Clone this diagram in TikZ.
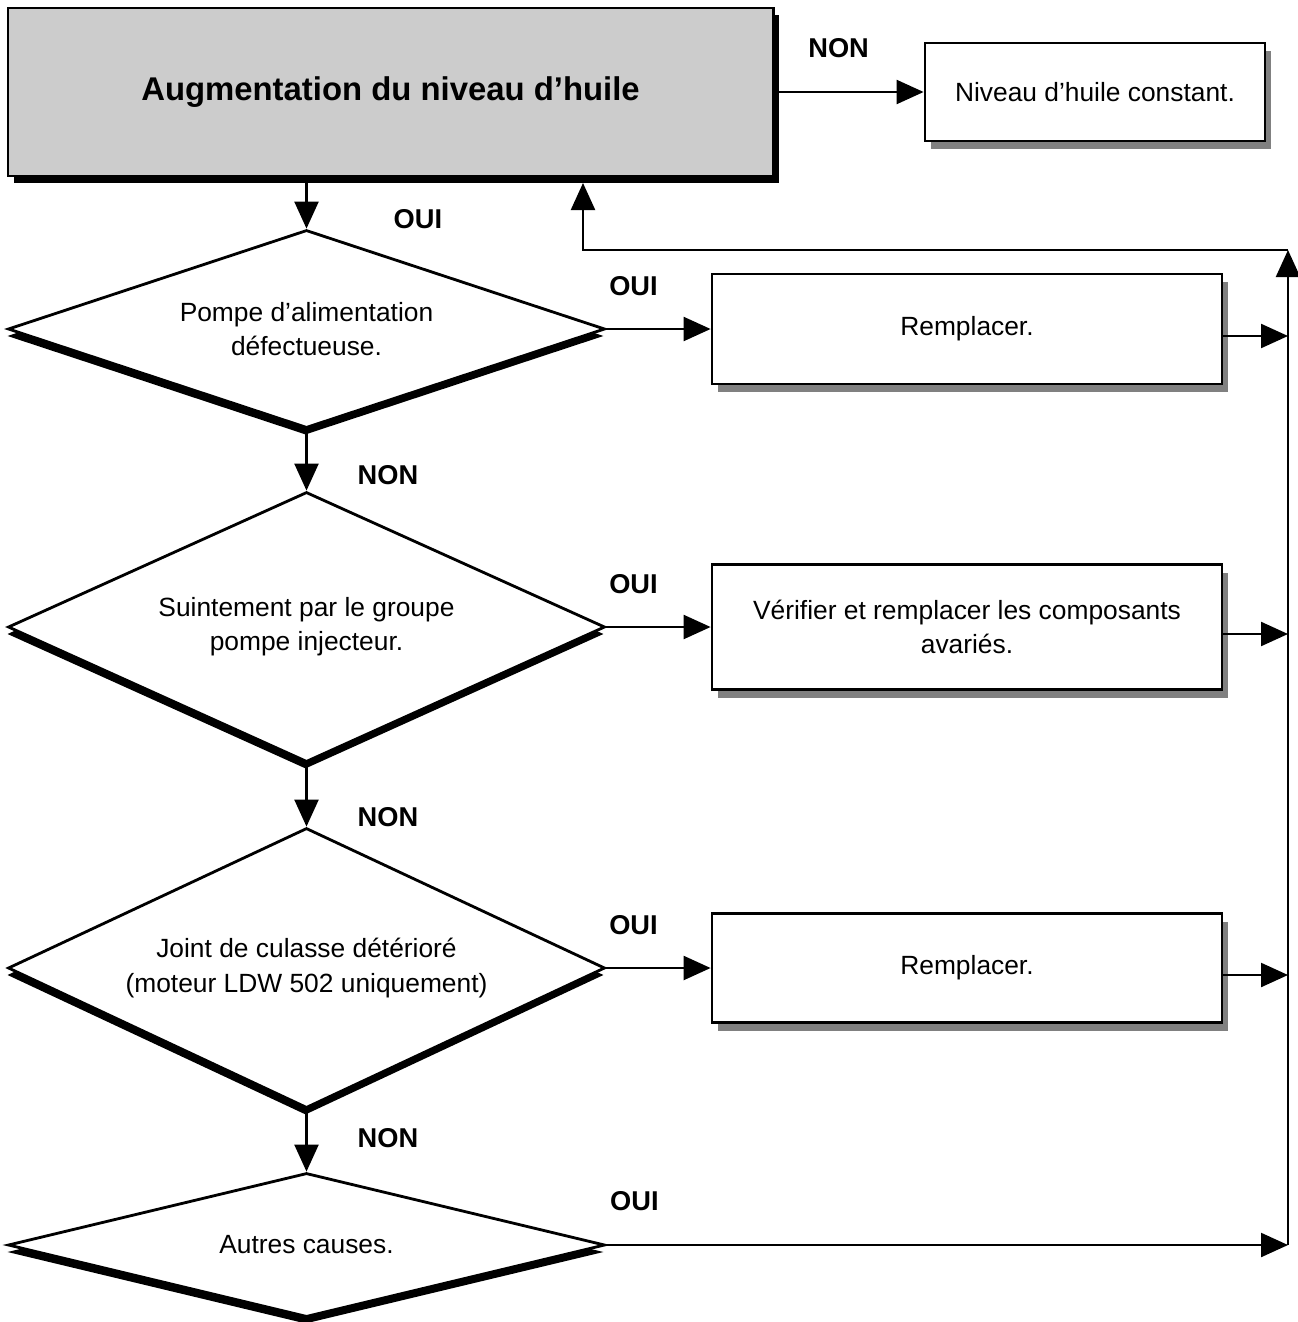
\documentclass[tikz,border=0pt]{standalone}
\usepackage{fontspec}
\setmainfont{Liberation Sans}
\usetikzlibrary{shapes.geometric,arrows.meta,shadows}

\newcommand{\flowfont}{\fontsize{15}{19.4}\selectfont}
\newcommand{\headfont}{\fontsize{18.7}{22}\selectfont\bfseries}
\newcommand{\answfont}{\fontsize{15.5}{18}\selectfont\bfseries}

\tikzstyle{headbox} = [rectangle, draw, line width=1.7pt, fill=black!20, font=\headfont,
    minimum width=15.3cm, minimum height=3.36cm,
    drop shadow={shadow xshift=0.12cm, shadow yshift=-0.14cm, fill=black, opacity=1}]
\tikzstyle{block} = [rectangle, draw, line width=1.6pt, fill=white, font=\flowfont,
    align=center, minimum width=10.2cm,
    drop shadow={shadow xshift=0.12cm, shadow yshift=-0.16cm, fill=black!50, opacity=1}]
\tikzstyle{test} = [diamond, aspect=3, draw, line width=1.6pt, fill=white, font=\flowfont,
    align=center, inner sep=0pt, minimum width=11.94cm,
    drop shadow={shadow xshift=-0.02cm, shadow yshift=-0.14cm, fill=black, opacity=1}]
\tikzstyle{line} = [draw, line width=1.3pt, -{Triangle[length=0.54cm,width=0.48cm]}]
\tikzstyle{answer} = [font=\answfont, inner sep=0pt]

\begin{document}
\begin{tikzpicture}
    \useasboundingbox (0,0) rectangle (25.96,-26.44);

    % Place nodes
    \node [headbox] (aug) at (7.81,-1.84) {\raisebox{-0.08cm}{Augmentation du niveau d’huile}};
    \node [block, right of=aug, node distance=14.09cm, minimum width=6.8cm, minimum height=1.96cm] (const) {Niveau d’huile constant.};
    \node [test, minimum height=3.96cm] (pump) at (6.13,-6.58) {Pompe d’alimentation\\défectueuse.};
    \node [test, below of=pump, node distance=5.96cm, minimum height=5.4cm] (seep) {Suintement par le groupe\\pompe injecteur.};
    \node [test, below of=seep, node distance=6.82cm, minimum height=5.6cm] (gasket) {Joint de culasse détérioré\\(moteur LDW 502 uniquement)};
    \node [test, below of=gasket, node distance=5.54cm, minimum height=2.88cm] (other) {Autres causes.};
    \node [block, right of=pump, node distance=13.21cm, minimum height=2.2cm] (repl1) {Remplacer.};
    \node [block, right of=seep, node distance=13.21cm, minimum height=2.5cm] (check) {Vérifier et remplacer les composants\\avariés.};
    \node [block, right of=gasket, node distance=13.21cm, minimum height=2.18cm] (repl2) {Remplacer.};

    % return rail on the right
    \coordinate (railtop) at (25.76,-5.0);
    \coordinate (railbot) at (other.east -| railtop);
    \coordinate (back) at (11.66,-3.66);

    % Draw edges
    \path [line] (aug.east) --node [answer, pos=0.43, above=0.67cm] {NON} (aug.east -| const.west);
    \path [line] (aug.south -| pump.north) --node [answer, pos=0.81, right=1.72cm] {OUI} (pump.north);
    \path [line] (pump.east) --node [answer, pos=0.26, above=0.65cm] {OUI} (pump.east -| repl1.west);
    \path [line] (pump.south) --node [answer, pos=0.75, right=1cm] {NON} (seep.north);
    \path [line] (seep.east) --node [answer, pos=0.26, above=0.65cm] {OUI} (seep.east -| check.west);
    \path [line] (seep.south) --node [answer, pos=0.85, right=1cm] {NON} (gasket.north);
    \path [line] (gasket.east) --node [answer, pos=0.26, above=0.65cm] {OUI} (gasket.east -| repl2.west);
    \path [line] (gasket.south) --node [answer, pos=0.46, right=1cm] {NON} (other.north);
    \path [line] (other.east) --node [answer, pos=0.041, above=0.67cm] {OUI} (railbot);

    \path [line] ([yshift=-0.14cm]repl1.east) -- ([yshift=-0.14cm]repl1.east -| railtop);
    \path [line] ([yshift=-0.14cm]check.east) -- ([yshift=-0.14cm]check.east -| railtop);
    \path [line] ([yshift=-0.14cm]repl2.east) -- ([yshift=-0.14cm]repl2.east -| railtop);
    \path [line] (railbot) -- (railtop);
    \path [line] (railtop) -| (back);
\end{tikzpicture}
\end{document}
